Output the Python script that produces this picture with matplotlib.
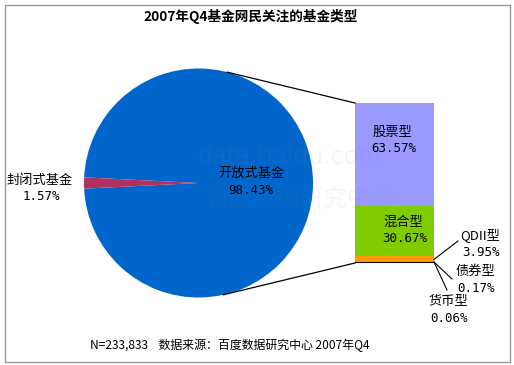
import numpy as np
import matplotlib
matplotlib.use("Agg")
import matplotlib.pyplot as plt
from matplotlib.patches import Rectangle

plt.rcParams['font.family'] = ['Noto Sans CJK SC', 'DejaVu Sans']

# data
title = "2007年Q4基金网民关注的基金类型"
pie_labels = ["开放式基金", "封闭式基金"]
pie_values = [98.43, 1.57]
pie_colors = ["#0066CC", "#B03060"]

bar_labels = ["货币型", "债券型", "QDII型", "混合型", "股票型"]
bar_values = [0.06, 0.17, 3.95, 30.67, 63.57]
bar_colors = ["#222222", "#663300", "#FF9900", "#7FCC00", "#9999FF"]

footer = "N=233,833    数据来源：百度数据研究中心 2007年Q4"

W, H = 514, 365
fig = plt.figure(figsize=(W / 100, H / 100), dpi=100)
ax = fig.add_axes([0, 0, 1, 1])

# pie
cx, cy, r = 198.5, 183, 114.5
start = 180 - (pie_values[1] / 2) / 100 * 360 - pie_values[0] / 100 * 360
ax.pie(pie_values, colors=pie_colors, center=(cx, cy), radius=r,
       startangle=start, counterclock=True, frame=True)

# bar of pie
bx, bw = 394.5, 79
b_bottom, b_top = 263, 103
scale = (b_bottom - b_top) / sum(bar_values)
cum = b_bottom
seg = []
for v, c in zip(bar_values, bar_colors):
    h = v * scale
    ax.bar(bx, -h, bottom=cum, width=bw, color=c, linewidth=0)
    seg.append((cum, cum - h))
    cum -= h
ax.plot([bx - bw / 2, bx + bw / 2], [b_bottom - 0.8, b_bottom - 0.8], color="black", lw=0.8)

# connector lines from pie to bar
for ang, yb in [(75.5, b_top), (-77.5, b_bottom)]:
    px = cx + r * np.cos(np.radians(ang))
    py = cy - r * np.sin(np.radians(ang))
    ax.plot([px, bx - bw / 2], [py, yb], color="black", lw=0.9)

ax.set_xlim(0, W)
ax.set_ylim(H, 0)
ax.set_aspect("auto")
ax.axis("off")

# watermark (faint)
ax.text(290, 157, "data.baidu.com", fontsize=17, color="#888888", alpha=0.09,
        ha="center", va="center", family="DejaVu Sans")
ax.text(300, 199, "百度数据研究中心", fontsize=17, color="#888888", alpha=0.07,
        ha="center", va="center")

mono = "DejaVu Sans Mono"
# pie labels
ax.text(251, 173, pie_labels[0], fontsize=9.5, ha="center", va="center")
ax.text(251, 190, f"{pie_values[0]:.2f}%", fontsize=9, ha="center", va="center", family=mono)
ax.text(40, 180, pie_labels[1], fontsize=9.5, ha="center", va="center")
ax.text(41, 196, f"{pie_values[1]:.2f}%", fontsize=9, ha="center", va="center", family=mono)

# bar labels inside
for i, (lx, ly) in [(4, (392, 132)), (3, (403, 222))]:
    ax.text(lx, ly, bar_labels[i], fontsize=9.5, ha="center", va="center")
    ax.text(lx + 2, ly + 16, f"{bar_values[i]:.2f}%", fontsize=9, ha="center", va="center", family=mono)

# small segments with leaders
outside = {2: (480, 235, 458, 241), 1: (475, 271, 452, 279), 0: (448, 301, 447, 290)}
for i, (lx, ly, ex, ey) in outside.items():
    ys = (seg[i][0] + seg[i][1]) / 2
    ax.plot([bx + bw / 2, ex], [min(ys, b_bottom - 1), ey], color="black", lw=0.8)
    ax.text(lx, ly, bar_labels[i], fontsize=9.5, ha="center", va="center")
    ax.text(lx + 1, ly + 17, f"{bar_values[i]:.2f}%", fontsize=9, ha="center", va="center", family=mono)

# title and footer
ax.text(251, 17, title, fontsize=9.8, fontweight="bold", ha="center", va="center")
ax.text(230, 345, footer, fontsize=8.6, ha="center", va="center")

fig.patches.append(Rectangle((4.5 / W, 1 - 362 / H), 505 / W, 357 / H, transform=fig.transFigure,
                             fill=False, edgecolor="#999999", lw=1))

fig.savefig("out.png", dpi=100)
